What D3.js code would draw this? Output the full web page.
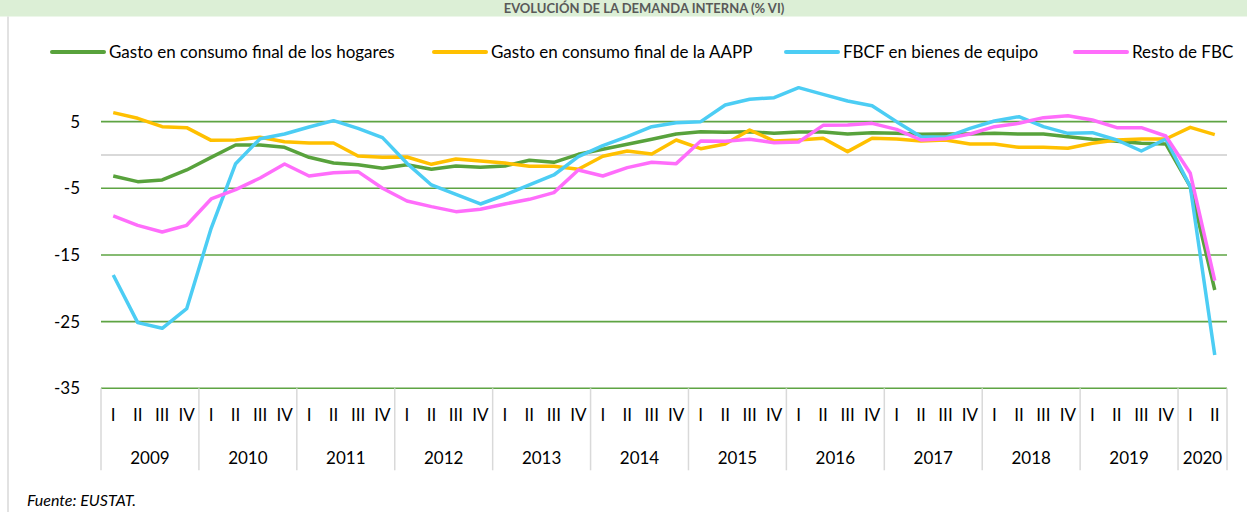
<!DOCTYPE html>
<html>
<head>
<meta charset="utf-8">
<script src="https://cdn.jsdelivr.net/npm/d3@7"></script>
<style>
  body { margin: 0; background: #fff; }
  svg { font-family: Lato, "Open Sans", sans-serif; display: block; }
</style>
</head>
<body>
<script>
// chart data (tasa de variación interanual, %)
var years = ["2009","2010","2011","2012","2013","2014","2015","2016","2017","2018","2019","2020"];
var quarterNames = ["I","II","III","IV"];
var seriesNames = ["Gasto en consumo final de los hogares", "Gasto en consumo final de la AAPP",
                   "FBCF en bienes de equipo", "Resto de FBC"];

var hogares = [-3.15,-4.0,-3.75,-2.25,-0.35,1.5,1.5,1.15,-0.35,-1.2,-1.45,-2.0,-1.45,-2.15,-1.65,-1.85,-1.65,-0.8,-1.1,0.1,
               0.85,1.6,2.35,3.15,3.5,3.4,3.5,3.25,3.45,3.45,3.15,3.35,3.25,3.1,3.15,3.15,3.25,3.15,3.15,2.75,
               2.35,2.05,1.75,1.65,-4.75,-20.25];
var aapp = [6.35,5.5,4.25,4.1,2.2,2.25,2.65,2.0,1.8,1.8,-0.15,-0.35,-0.3,-1.4,-0.6,-0.9,-1.2,-1.7,-1.7,-2.15,
            -0.2,0.6,0.15,2.25,0.95,1.65,3.75,2.1,2.25,2.5,0.5,2.5,2.4,2.1,2.25,1.65,1.65,1.15,1.15,1.0,
            1.75,2.25,2.4,2.4,4.15,3.05];
var equipo = [-18.0,-25.15,-26.0,-23.05,-11.0,-1.3,2.45,3.15,4.2,5.15,4.0,2.6,-1.25,-4.5,-5.9,-7.35,-6.0,-4.5,-3.0,-0.25,
              1.4,2.75,4.25,4.85,5.0,7.5,8.35,8.6,10.1,9.1,8.1,7.4,5.0,2.75,2.65,4.0,5.1,5.75,4.25,3.25,
              3.35,2.25,0.6,2.4,-4.75,-30.0];
var restoFbc = [-9.15,-10.55,-11.55,-10.55,-6.6,-5.2,-3.45,-1.35,-3.15,-2.65,-2.5,-5.0,-6.9,-7.75,-8.5,-8.15,-7.35,-6.65,-5.65,-2.25,
                -3.15,-1.9,-1.1,-1.3,2.1,2.05,2.35,1.85,1.95,4.45,4.5,4.75,3.85,2.25,2.45,3.15,4.25,4.75,5.6,5.9,
                5.25,4.1,4.1,2.85,-2.75,-18.85];
var yTicks = [5, -5, -15, -25, -35];

var colors = ["#58a23c", "#ffc000", "#4ccdf4", "#ff6dfb"];

// dimensions
var W = 1247, H = 512;
var margin = {top: 55, right: 20, bottom: 124, left: 101},
    width = 1227 - margin.left,
    height = 388.3 - margin.top;

// quarter keys
var quarters = [];
years.forEach(function(y) {
  quarterNames.forEach(function(q) {
    if (quarters.length < hogares.length) quarters.push(y + "-" + q);
  });
});

var x = d3.scaleBand().domain(quarters).range([0, width]);
var y = d3.scaleLinear().domain([-35, 15]).range([height, 0]);

var svg = d3.select("body").append("svg")
    .attr("width", W)
    .attr("height", H);

// green title band
svg.append("rect")
    .attr("x", 0).attr("y", 0)
    .attr("width", W).attr("height", 16.5)
    .attr("fill", "#dcefd6");
svg.append("text")
    .attr("x", 644).attr("y", 13)
    .attr("text-anchor", "middle")
    .style("font-size", "13px")
    .style("font-weight", "bold")
    .attr("fill", "#595959")
    .text("EVOLUCIÓN DE LA DEMANDA INTERNA (% VI)");

// left frame line
svg.append("line")
    .attr("x1", 8).attr("x2", 8)
    .attr("y1", 16.5).attr("y2", H)
    .attr("stroke", "#d9d9d9").attr("stroke-width", 1.5);

var g = svg.append("g")
    .attr("transform", "translate(" + margin.left + "," + margin.top + ")");

// gridlines
g.selectAll(".grid")
    .data(yTicks)
  .enter().append("line")
    .attr("x1", 0).attr("x2", width)
    .attr("y1", function(d) { return y(d); })
    .attr("y2", function(d) { return y(d); })
    .attr("stroke", "#5ea443")
    .attr("stroke-width", 1.6);

// zero line
g.append("line")
    .attr("x1", 0).attr("x2", width)
    .attr("y1", y(0)).attr("y2", y(0))
    .attr("stroke", "#d9d9d9")
    .attr("stroke-width", 2);

// y axis labels
g.selectAll(".ylab")
    .data(yTicks)
  .enter().append("text")
    .attr("x", -21)
    .attr("y", function(d) { return y(d); })
    .attr("dy", "0.35em")
    .attr("text-anchor", "end")
    .style("font-size", "17px")
    .attr("fill", "#000")
    .text(function(d) { return d; });

// x axis: year separators
var yearStart = years.map(function(yr) { return x(yr + "-I"); });
yearStart.push(width);
g.selectAll(".sep")
    .data(yearStart)
  .enter().append("line")
    .attr("x1", function(d) { return d; })
    .attr("x2", function(d) { return d; })
    .attr("y1", height)
    .attr("y2", height + 82)
    .attr("stroke", "#d9d9d9")
    .attr("stroke-width", 1.5);

// quarter labels
g.selectAll(".qlab")
    .data(quarters)
  .enter().append("text")
    .attr("x", function(d) { return x(d) + x.bandwidth() / 2; })
    .attr("y", height + 27)
    .attr("dy", "0.35em")
    .attr("text-anchor", "middle")
    .style("font-size", "17px")
    .text(function(d) { return d.split("-")[1]; });

// year labels
g.selectAll(".ylabel")
    .data(years)
  .enter().append("text")
    .attr("x", function(d, i) { return (yearStart[i] + yearStart[i + 1]) / 2; })
    .attr("y", height + 70)
    .attr("dy", "0.35em")
    .attr("text-anchor", "middle")
    .style("font-size", "17px")
    .text(function(d) { return d; });

// lines
var line = d3.line()
    .x(function(d, i) { return x(quarters[i]) + x.bandwidth() / 2; })
    .y(function(d) { return y(d); });

[hogares, aapp, equipo, restoFbc].forEach(function(s, i) {
  g.append("path")
      .datum(s)
      .attr("fill", "none")
      .attr("stroke", colors[i])
      .attr("stroke-width", 3.5)
      .attr("stroke-linejoin", "round")
      .attr("d", line);
});

// legend
var legendX = [52, 434, 786, 1075];
var legend = svg.selectAll(".legend")
    .data(seriesNames)
  .enter().append("g")
    .attr("transform", function(d, i) { return "translate(" + legendX[i] + ",52)"; });
legend.append("line")
    .attr("x1", 0).attr("x2", 52)
    .attr("stroke", function(d, i) { return colors[i]; })
    .attr("stroke-width", 4)
    .attr("stroke-linecap", "round");
legend.append("text")
    .attr("x", 57)
    .attr("dy", "0.35em")
    .style("font-size", "17px")
    .text(function(d) { return d; });

// source
svg.append("text")
    .attr("x", 27).attr("y", 500)
    .attr("dy", "0.35em")
    .style("font-size", "16px")
    .style("font-style", "italic")
    .text("Fuente: EUSTAT.");
</script>
</body>
</html>
